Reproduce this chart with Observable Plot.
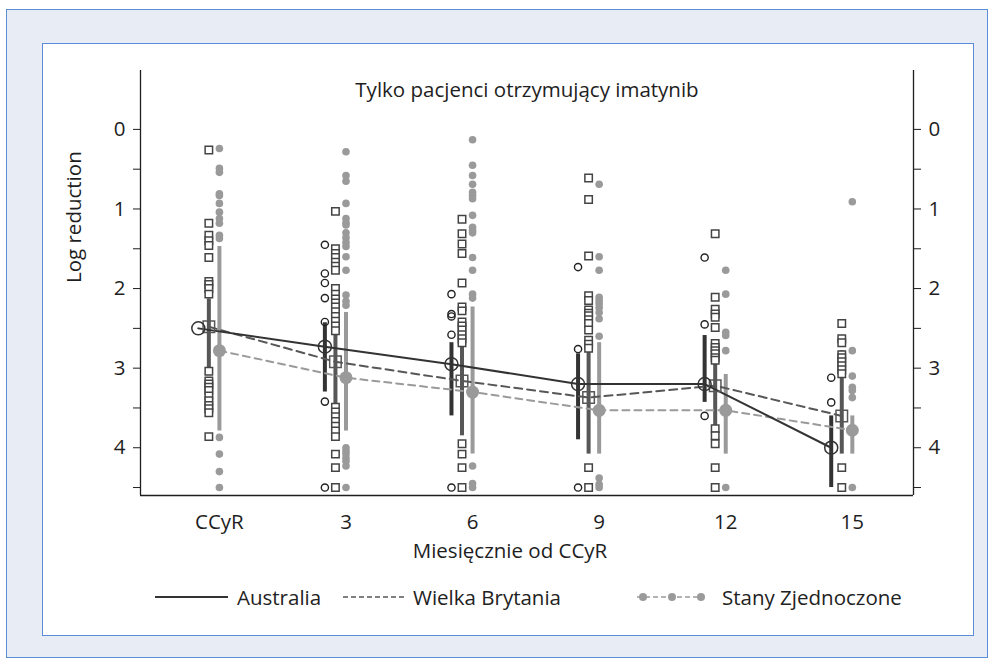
<!DOCTYPE html>
<html>
<head>
<meta charset="utf-8">
<script src="https://cdn.jsdelivr.net/npm/d3@7"></script>
<script src="https://cdn.jsdelivr.net/npm/@observablehq/plot@0.6"></script>
<style>
  body { margin: 0; background: #fff; font-family: "Open Sans", sans-serif; }
  #page { position: relative; width: 994px; height: 665px; overflow: hidden; }
  #outer { position: absolute; left: 6px; top: 9px; width: 982px; height: 649px; background: #e8ecf5; border: 1px solid #5b8ed6; box-sizing: border-box; }
  #inner { position: absolute; left: 42px; top: 43px; width: 932px; height: 593px; background: #fff; border: 1px solid #5b8ed6; box-sizing: border-box; }
  #chart { position: absolute; left: 0; top: 0; }
  .leg { position: absolute; top: 583px; height: 28px; line-height: 28px; font-size: 20.5px; color: #222; white-space: nowrap; }
  .legsvg { position: absolute; top: 584px; }
</style>
</head>
<body>
<div id="page">
  <div id="outer"></div>
  <div id="inner"></div>
  <div id="chart"></div>
  <div id="legend"></div>
</div>
<script>
// ---------- data ----------
const monthValues = [0, 3, 6, 9, 12, 15];
const monthLabels = ["CCyR", "3", "6", "9", "12", "15"];
const seriesNames = ["Australia", "Wielka Brytania", "Stany Zjednoczone"];
const titleText = "Tylko pacjenci otrzymujący imatynib";
const xTitle = "Miesięcznie od CCyR";
const yTitle = "Log reduction";
const yTickValues = [0, 0.5, 1, 1.5, 2, 2.5, 3, 3.5, 4, 4.5];

const ausMean = [2.50, 2.73, 2.95, 3.20, 3.20, 4.00];
const ukMean  = [2.48, 2.92, 3.16, 3.37, 3.22, 3.60];
const usMean  = [2.78, 3.12, 3.30, 3.53, 3.53, 3.78];

const ausLow  = [null, 2.43, 2.68, 2.82, 2.59, 3.60];
const ausHigh = [null, 3.30, 3.60, 3.90, 3.43, 4.50];
const ukLow   = [2.13, 2.53, 2.68, 2.75, 2.90, 2.78];
const ukHigh  = [3.06, 3.47, 3.85, 4.08, 3.75, 4.08];
const usLow   = [1.47, 2.30, 2.23, 2.68, 3.08, 3.60];
const usHigh  = [3.79, 3.79, 4.08, 4.08, 4.08, 4.08];

const ausPoints = [
  [],
  [1.45, 1.81, 1.93, 2.12, 2.42, 3.42, 4.5],
  [2.07, 2.32, 2.35, 2.58, 4.5],
  [1.73, 2.76, 4.5],
  [1.61, 2.45, 3.6],
  [3.12, 3.43]
];
const ukPoints = [
  [0.26, 1.18, 1.33, 1.40, 1.46, 1.61, 1.91, 1.95, 2.0, 2.07, 3.04, 3.16, 3.2, 3.24, 3.28, 3.35, 3.41, 3.47, 3.51, 3.56, 3.86],
  [1.03, 1.5, 1.56, 1.61, 1.67, 1.72, 1.77, 2.0, 2.07, 2.13, 2.18, 2.23, 2.29, 2.35, 2.41, 2.47, 2.53, 3.49, 3.55, 3.61, 3.67, 3.73, 3.79, 3.86, 4.08, 4.25, 4.5],
  [1.13, 1.31, 1.44, 1.56, 1.93, 2.23, 2.28, 2.42, 2.47, 2.52, 2.58, 2.63, 2.68, 3.95, 4.08, 4.25, 4.5],
  [0.61, 0.88, 1.59, 2.09, 2.15, 2.27, 2.31, 2.34, 2.39, 2.44, 2.52, 2.65, 2.70, 2.75, 4.25, 4.5],
  [1.31, 2.11, 2.26, 2.32, 2.36, 2.49, 2.69, 2.74, 2.78, 2.82, 2.87, 2.9, 3.76, 3.85, 3.95, 4.25, 4.5],
  [2.44, 2.63, 2.68, 2.83, 2.87, 2.92, 2.97, 3.02, 3.07, 4.25, 4.5]
];
const usPoints = [
  [0.24, 0.49, 0.54, 0.81, 0.83, 0.93, 1.04, 1.12, 1.18, 1.33, 1.37, 3.87, 4.08, 4.30, 4.5],
  [0.28, 0.58, 0.65, 0.93, 1.12, 1.17, 1.2, 1.3, 1.36, 1.42, 1.47, 1.6, 1.77, 2.08, 2.16, 2.21, 4.0, 4.04, 4.08, 4.13, 4.17, 4.23, 4.5],
  [0.13, 0.45, 0.58, 0.69, 0.79, 0.83, 0.87, 1.08, 1.23, 1.27, 1.3, 1.61, 1.77, 2.07, 2.12, 4.23, 4.45, 4.5],
  [0.69, 1.6, 1.77, 2.11, 2.15, 2.19, 2.24, 2.3, 2.38, 2.6, 4.38, 4.46, 4.5],
  [1.77, 2.07, 2.55, 2.59, 2.78, 4.5],
  [0.91, 2.78, 3.1, 3.24, 3.28, 3.37, 4.5]
];

// ---------- build tables ----------
const xDomain = [-1.87, 16.45];
const yDomain = [-0.74, 4.6];
const dodge = [-0.5, -0.25, 0];

function summary(means, lows, highs, k) {
  return monthValues.map((m, i) => ({ x: m + dodge[k], mean: means[i], low: lows[i], high: highs[i] }));
}
function pts(nested, k) {
  const out = [];
  nested.forEach((arr, i) => arr.forEach(v => out.push({ x: monthValues[i] + dodge[k], y: v })));
  return out;
}
const aus = summary(ausMean, ausLow, ausHigh, 0);
const uk = summary(ukMean, ukLow, ukHigh, 1);
const us = summary(usMean, usLow, usHigh, 2);
const ausP = pts(ausPoints, 0), ukP = pts(ukPoints, 1), usP = pts(usPoints, 2);

const cAus = "#333333", cUk = "#575757", cUs = "#9a9a9a", cTxt = "#1e1e1e";

const chart = Plot.plot({
  width: 994, height: 665,
  marginLeft: 140, marginRight: 81, marginTop: 70, marginBottom: 170,
  style: { fontFamily: "'Open Sans', sans-serif", fontSize: "20.5px", color: cTxt, background: "transparent", overflow: "visible" },
  x: { domain: xDomain, label: null },
  y: { domain: yDomain, reverse: true, label: null },
  marks: [
    Plot.ruleX([xDomain[0]], { stroke: cTxt, strokeWidth: 1.3 }),
    Plot.ruleX([xDomain[1]], { stroke: cTxt, strokeWidth: 1.3 }),
    Plot.ruleY([yDomain[1]], { stroke: cTxt, strokeWidth: 1.3 }),
    Plot.axisY({ anchor: "left", ticks: yTickValues, tickSize: 7, tickPadding: 8, stroke: cTxt, tickFormat: d => Number.isInteger(d) ? String(d) : "" }),
    Plot.axisY({ anchor: "right", ticks: yTickValues, tickSize: 7, tickPadding: 8, stroke: cTxt, tickFormat: d => Number.isInteger(d) ? String(d) : "" }),
    Plot.axisX({ ticks: monthValues, tickSize: 0, tickPadding: 19, tickFormat: d => monthLabels[monthValues.indexOf(d)] }),
    // bars
    Plot.ruleX(aus.filter(d => d.low != null), { x: "x", y1: "low", y2: "high", stroke: cAus, strokeWidth: 4 }),
    Plot.ruleX(uk, { x: "x", y1: "low", y2: "high", stroke: cUk, strokeWidth: 4 }),
    Plot.ruleX(us, { x: "x", y1: "low", y2: "high", stroke: cUs, strokeWidth: 4 }),
    // individual points
    Plot.dot(ausP, { x: "x", y: "y", r: 3.6, stroke: "#222", strokeWidth: 1.4, fill: "none" }),
    Plot.dot(ukP, { x: "x", y: "y", symbol: "square", r: 4.2, stroke: "#444", strokeWidth: 1.5, fill: "#fff" }),
    Plot.dot(usP, { x: "x", y: "y", r: 3.8, fill: cUs, stroke: "none" }),
    // mean lines
    Plot.line(us, { x: "x", y: "mean", stroke: cUs, strokeWidth: 2, strokeDasharray: "7,5" }),
    Plot.line(uk, { x: "x", y: "mean", stroke: cUk, strokeWidth: 2, strokeDasharray: "8,5" }),
    Plot.line(aus, { x: "x", y: "mean", stroke: cAus, strokeWidth: 2 }),
    // means
    Plot.dot(us, { x: "x", y: "mean", r: 6.5, fill: cUs, stroke: "none" }),
    Plot.dot(uk, { x: "x", y: "mean", symbol: "square", r: 6.5, stroke: cUk, strokeWidth: 1.5, fill: "none" }),
    Plot.dot(aus, { x: "x", y: "mean", r: 6.5, stroke: cAus, strokeWidth: 1.5, fill: "none" }),
    // titles
    Plot.text([titleText], { frameAnchor: "top", dy: 12, text: d => d, fill: cTxt }),
    Plot.text([xTitle], { frameAnchor: "bottom", dx: -17, dy: 62, text: d => d, fill: cTxt }),
    Plot.text([yTitle], { frameAnchor: "left", dx: -66, rotate: -90, text: d => d, fill: cTxt })
  ]
});
document.getElementById("chart").appendChild(chart);

// ---------- legend ----------
const legend = document.getElementById("legend");
const legendItems = [
  { name: seriesNames[0], sx: 155, sw: 73, tx: 237, kind: "solid" },
  { name: seriesNames[1], sx: 343, sw: 62, tx: 413, kind: "dash" },
  { name: seriesNames[2], sx: 633, sw: 74, tx: 722, kind: "dots" }
];
legendItems.forEach(it => {
  const ns = "http://www.w3.org/2000/svg";
  const svg = document.createElementNS(ns, "svg");
  svg.setAttribute("class", "legsvg");
  svg.setAttribute("width", it.sw);
  svg.setAttribute("height", 26);
  svg.style.left = it.sx + "px";
  const line = document.createElementNS(ns, "line");
  line.setAttribute("x1", 0); line.setAttribute("x2", it.sw);
  line.setAttribute("y1", 13); line.setAttribute("y2", 13);
  if (it.kind === "solid") { line.setAttribute("stroke", cAus); line.setAttribute("stroke-width", 2); }
  if (it.kind === "dash") { line.setAttribute("stroke", cUk); line.setAttribute("stroke-width", 1.6); line.setAttribute("stroke-dasharray", "5,3"); }
  if (it.kind === "dots") { line.setAttribute("x1", 4); line.setAttribute("x2", it.sw - 4); line.setAttribute("stroke", cUs); line.setAttribute("stroke-width", 1.6); line.setAttribute("stroke-dasharray", "5,3"); }
  svg.appendChild(line);
  if (it.kind === "dots") {
    [10, 39, 68].forEach(cx => {
      const c = document.createElementNS(ns, "circle");
      c.setAttribute("cx", cx); c.setAttribute("cy", 13); c.setAttribute("r", 4);
      c.setAttribute("fill", cUs);
      svg.appendChild(c);
    });
  }
  legend.appendChild(svg);
  const t = document.createElement("div");
  t.className = "leg";
  t.style.left = it.tx + "px";
  t.textContent = it.name;
  legend.appendChild(t);
});
</script>
</body>
</html>
